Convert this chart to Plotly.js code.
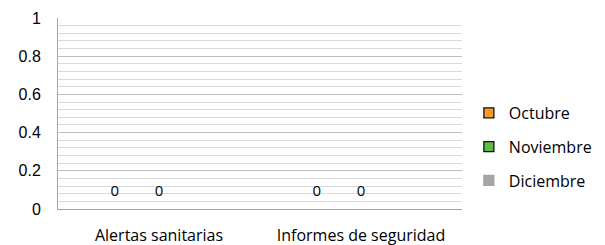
<!DOCTYPE html>
<html><head><meta charset="utf-8">
<script src="https://cdn.plot.ly/plotly-3.0.1.min.js"></script>
<style>html,body{margin:0;padding:0;background:#fff}#chart{width:605px;height:245px}</style>
</head><body><div id="chart"></div>
<script>
const categories = ["Alertas sanitarias", "Informes de seguridad"];
const seriesNames = ["Octubre", "Noviembre", "Diciembre"];
const octubre = [0, 0];
const noviembre = [0, 0];
const diciembre = [null, null];
const yTicks = [0, 0.2, 0.4, 0.6, 0.8, 1];

const colors = ["#F79A2E", "#5DBB46", "#A5A5A5"];
const borders = ["#111111", "#111111", "#A5A5A5"];
const values = [octubre, noviembre, diciembre];
const FONT = "'Open Sans', Lato, sans-serif";

const traces = [];
values.forEach((v, i) => {
  traces.push({
    type: "bar", name: seriesNames[i], x: categories, y: v,
    offsetgroup: "s" + i, showlegend: false, hoverinfo: "none",
    marker: {color: colors[i], line: {width: 0}}
  });
});
values.forEach((v, i) => {
  traces.push({
    type: "scatter", mode: "markers+text", name: seriesNames[i] + " label",
    x: categories, y: v, offsetgroup: "s" + i, showlegend: false, hoverinfo: "none",
    text: v.map(t => t === null ? "" : String(t)),
    textposition: "top center", cliponaxis: false,
    textfont: {family: FONT, size: 15, color: "#000"},
    marker: {size: 14, color: "rgba(0,0,0,0)", line: {width: 0}}
  });
});
values.forEach((v, i) => {
  traces.push({
    type: "scatter", mode: "markers", name: seriesNames[i],
    x: [null], y: [null], offsetgroup: "s" + i, showlegend: true, hoverinfo: "none",
    legendgroup: "g" + i,
    marker: {symbol: "square", size: 10, color: colors[i], line: {color: borders[i], width: 1.3}}
  });
});

const layout = {
  width: 605, height: 245,
  margin: {l: 58, r: 143, t: 18, b: 36, autoexpand: false},
  paper_bgcolor: "#fff", plot_bgcolor: "#fff",
  barmode: "group", bargap: 0.345, bargroupgap: 0,
  scattermode: "group", scattergap: 0.345,
  showlegend: true,
  legend: {x: 1.017, y: 0.325, xanchor: "left", yanchor: "middle",
    traceorder: "grouped", tracegroupgap: 10,
    font: {family: FONT, size: 16, color: "#000"},
    itemwidth: 30},
  xaxis: {type: "category", showgrid: false, showline: true, linecolor: "#a0a0a0", linewidth: 1,
    ticks: "outside", ticklen: 12, tickcolor: "rgba(0,0,0,0)",
    tickfont: {family: FONT, size: 16, color: "#000"}},
  yaxis: {range: [0, 1], tickvals: yTicks, ticktext: yTicks.map(String),
    showgrid: true, gridcolor: "#bdbdbd", gridwidth: 1,
    minor: {dtick: 0.04, showgrid: true, gridcolor: "#d9d9d9", gridwidth: 1},
    showline: true, linecolor: "#a6a6a6", linewidth: 1, zeroline: false,
    ticks: "outside", ticklen: 13, tickcolor: "rgba(0,0,0,0)",
    tickfont: {family: "'Liberation Sans', Arial, sans-serif", size: 16, color: "#000"}}
};
Plotly.newPlot("chart", traces, layout, {staticPlot: true, displayModeBar: false});
</script></body></html>
